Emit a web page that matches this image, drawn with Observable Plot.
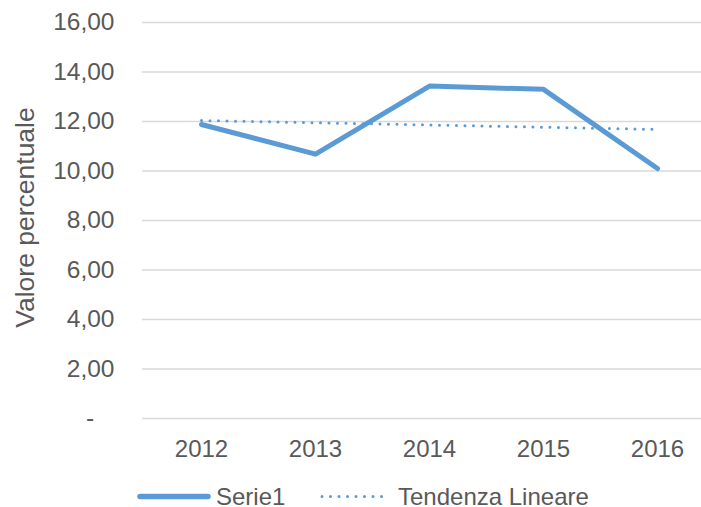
<!DOCTYPE html>
<html>
<head>
<meta charset="utf-8">
<script src="https://cdn.jsdelivr.net/npm/d3@7"></script>
<script src="https://cdn.jsdelivr.net/npm/@observablehq/plot@0.6"></script>
<style>
  html, body { margin: 0; padding: 0; background: #fff; width: 701px; height: 507px; overflow: hidden; }
  #chart svg { overflow: hidden; }
  #legend { position: relative; width: 701px; height: 37px; }
</style>
</head>
<body>
<div id="chart"></div>
<div id="legend"></div>
<script>
const years = ["2012", "2013", "2014", "2015", "2016"];
const serie1 = [11.88, 10.68, 13.43, 13.30, 10.10];
const trendYears = ["2012", "2016"];
const trendValues = [12.04, 11.68];
const yTicks = [0, 2, 4, 6, 8, 10, 12, 14, 16];
const yLabel = "Valore percentuale";
const seriesNames = ["Serie1", "Tendenza Lineare"];

const blue = "#5B9BD5";
const textColor = "#595959";
const font = "'Liberation Sans', Arial, sans-serif";

const serieData = years.map((y, i) => ({year: y, value: serie1[i]}));
const trendData = trendYears.map((y, i) => ({year: y, value: trendValues[i]}));

const fmt = d => d === 0 ? "-   " : d.toFixed(2).replace(".", ",");

const chart = Plot.plot({
  width: 701,
  height: 470,
  marginTop: 22,
  marginBottom: 52,
  marginLeft: 142,
  marginRight: -15,
  style: {fontFamily: font, color: textColor, background: "#fff"},
  x: {type: "point", domain: years, padding: 0.5},
  y: {domain: [0, 16]},
  marks: [
    Plot.gridY(yTicks, {stroke: "#d9d9d9", strokeOpacity: 1, strokeWidth: 1.3}),
    Plot.axisY(yTicks, {tickSize: 0, tickPadding: 28, tickFormat: fmt, fontSize: 24.5, label: null}),
    Plot.axisX({tickSize: 0, tickPadding: 21, fontSize: 24, label: null}),
    Plot.text([yLabel], {frameAnchor: "left", textAnchor: "middle", rotate: -90, dx: -117, dy: -3, fontSize: 26.5, fill: textColor}),
    Plot.line(trendData, {x: "year", y: "value", stroke: blue, strokeWidth: 3, strokeDasharray: "0 8.5", strokeLinecap: "round"}),
    Plot.line(serieData, {x: "year", y: "value", stroke: blue, strokeWidth: 5, strokeLinecap: "round", strokeLinejoin: "round"})
  ]
});
document.getElementById("chart").appendChild(chart);

// Legend
const leg = d3.select("#legend").append("svg")
  .attr("width", 701).attr("height", 37)
  .style("display", "block")
  .style("font-family", font);
const cy = 26.5;
leg.append("line").attr("x1", 140).attr("x2", 208).attr("y1", cy).attr("y2", cy)
  .attr("stroke", blue).attr("stroke-width", 5.5).attr("stroke-linecap", "round");
leg.append("text").attr("x", 216).attr("y", cy).attr("dy", "0.35em")
  .attr("font-size", 24).attr("fill", textColor).text(seriesNames[0]);
leg.append("line").attr("x1", 322).attr("x2", 386).attr("y1", cy).attr("y2", cy)
  .attr("stroke", blue).attr("stroke-width", 3).attr("stroke-linecap", "round")
  .attr("stroke-dasharray", "0 8.5");
leg.append("text").attr("x", 398).attr("y", cy).attr("dy", "0.35em")
  .attr("font-size", 24).attr("fill", textColor).text(seriesNames[1]);
</script>
</body>
</html>
